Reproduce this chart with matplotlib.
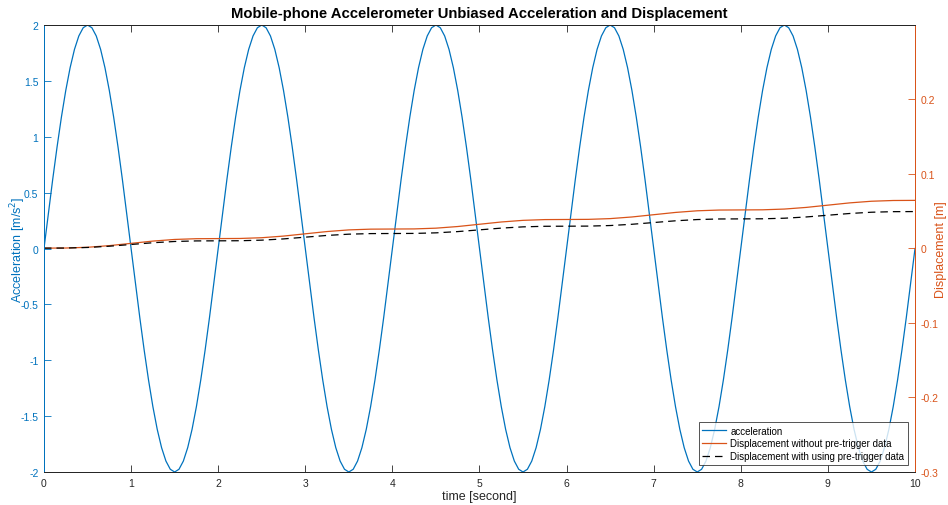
import numpy as np
import matplotlib.pyplot as plt
from matplotlib.ticker import FormatStrFormatter

plt.rcParams['font.family'] = ['Liberation Sans', 'DejaVu Sans']
plt.rcParams['axes.unicode_minus'] = False

# acceleration samples, 0.05 s apart (0 .. 10 s)
t_acc = np.arange(201) * 0.05
acc = [
    0, 0.3129, 0.6180, 0.9080, 1.1756, 1.4142, 1.6180, 1.7820, 1.9021, 1.9754,
    2.0, 1.9754, 1.9021, 1.7820, 1.6180, 1.4142, 1.1756, 0.9080, 0.6180, 0.3129,
    0, -0.3129, -0.6180, -0.9080, -1.1756, -1.4142, -1.6180, -1.7820, -1.9021, -1.9754,
    -2.0, -1.9754, -1.9021, -1.7820, -1.6180, -1.4142, -1.1756, -0.9080, -0.6180, -0.3129,
    0, 0.3129, 0.6180, 0.9080, 1.1756, 1.4142, 1.6180, 1.7820, 1.9021, 1.9754,
    2.0, 1.9754, 1.9021, 1.7820, 1.6180, 1.4142, 1.1756, 0.9080, 0.6180, 0.3129,
    0, -0.3129, -0.6180, -0.9080, -1.1756, -1.4142, -1.6180, -1.7820, -1.9021, -1.9754,
    -2.0, -1.9754, -1.9021, -1.7820, -1.6180, -1.4142, -1.1756, -0.9080, -0.6180, -0.3129,
    0, 0.3129, 0.6180, 0.9080, 1.1756, 1.4142, 1.6180, 1.7820, 1.9021, 1.9754,
    2.0, 1.9754, 1.9021, 1.7820, 1.6180, 1.4142, 1.1756, 0.9080, 0.6180, 0.3129,
    0, -0.3129, -0.6180, -0.9080, -1.1756, -1.4142, -1.6180, -1.7820, -1.9021, -1.9754,
    -2.0, -1.9754, -1.9021, -1.7820, -1.6180, -1.4142, -1.1756, -0.9080, -0.6180, -0.3129,
    0, 0.3129, 0.6180, 0.9080, 1.1756, 1.4142, 1.6180, 1.7820, 1.9021, 1.9754,
    2.0, 1.9754, 1.9021, 1.7820, 1.6180, 1.4142, 1.1756, 0.9080, 0.6180, 0.3129,
    0, -0.3129, -0.6180, -0.9080, -1.1756, -1.4142, -1.6180, -1.7820, -1.9021, -1.9754,
    -2.0, -1.9754, -1.9021, -1.7820, -1.6180, -1.4142, -1.1756, -0.9080, -0.6180, -0.3129,
    0, 0.3129, 0.6180, 0.9080, 1.1756, 1.4142, 1.6180, 1.7820, 1.9021, 1.9754,
    2.0, 1.9754, 1.9021, 1.7820, 1.6180, 1.4142, 1.1756, 0.9080, 0.6180, 0.3129,
    0, -0.3129, -0.6180, -0.9080, -1.1756, -1.4142, -1.6180, -1.7820, -1.9021, -1.9754,
    -2.0, -1.9754, -1.9021, -1.7820, -1.6180, -1.4142, -1.1756, -0.9080, -0.6180, -0.3129,
    0,
]

# displacement samples, 0.25 s apart
t_disp = np.arange(41) * 0.25
disp_no_pre = [
    0, 0.00016, 0.00116, 0.00336, 0.0064, 0.00944, 0.01164, 0.01264,
    0.0128, 0.01296, 0.01396, 0.01616, 0.0192, 0.02224, 0.02444, 0.02544,
    0.0256, 0.02576, 0.02676, 0.02896, 0.032, 0.03504, 0.03724, 0.03824,
    0.0384, 0.03856, 0.03956, 0.04176, 0.0448, 0.04784, 0.05004, 0.05104,
    0.0512, 0.05136, 0.05236, 0.05456, 0.0576, 0.06064, 0.06284, 0.06384,
    0.064,
]
disp_pre = [
    0, 0.00012, 0.00089, 0.00257, 0.0049, 0.00723, 0.00891, 0.00968,
    0.0098, 0.00992, 0.01069, 0.01237, 0.0147, 0.01703, 0.01871, 0.01948,
    0.0196, 0.01972, 0.02049, 0.02217, 0.0245, 0.02683, 0.02851, 0.02928,
    0.0294, 0.02952, 0.03029, 0.03197, 0.0343, 0.03663, 0.03831, 0.03908,
    0.0392, 0.03932, 0.04009, 0.04177, 0.0441, 0.04643, 0.04811, 0.04888,
    0.049,
]

blue = '#0072BD'
orange = '#D95319'
grey = '#262626'

fig = plt.figure(figsize=(9.48, 5.06), dpi=100)
ax = fig.add_axes([0.0464, 0.0652, 0.9188, 0.8834])
ax2 = ax.twinx()

l1, = ax.plot(t_acc, acc, color=blue, lw=0.9, label='acceleration')
l2, = ax2.plot(t_disp, disp_no_pre, color=orange, lw=0.9,
               label='Displacement without pre-trigger data')
l3, = ax2.plot(t_disp, disp_pre, color='black', lw=0.9, ls=(0, (6, 4)),
               label='Displacement with using pre-trigger data')

ax.set_xlim(0, 10)
ax.set_ylim(-2, 2)
ax.set_xticks(range(11))
ax.set_yticks(np.arange(-2, 2.01, 0.5))
ax.yaxis.set_major_formatter(FormatStrFormatter('%g'))
ax2.set_ylim(-0.3, 0.299)
ax2.set_yticks([-0.3, -0.2, -0.1, 0, 0.1, 0.2])
ax2.yaxis.set_major_formatter(FormatStrFormatter('%g'))

ax.tick_params(axis='x', direction='in', length=5, width=0.6, colors=grey,
               labelsize=7.5, top=True, pad=4)
ax.tick_params(axis='y', direction='in', length=5, width=0.6, colors=blue,
               labelsize=7.5, right=False, pad=4)
ax2.tick_params(axis='y', direction='in', length=5, width=0.6, colors=orange,
                labelsize=7.5, pad=4)

for a in (ax, ax2):
    a.spines['top'].set_color(grey)
    a.spines['bottom'].set_color(grey)
    a.spines['left'].set_color(blue)
    a.spines['right'].set_color(orange)
    for s in a.spines.values():
        s.set_linewidth(0.7)

ax.set_xlabel('time [second]', fontsize=9, color=grey, labelpad=2)
ax.set_ylabel('Acceleration [m/s$^2$]', fontsize=9, color=blue)
ax.yaxis.set_label_coords(-0.018, 0.5)
ax2.set_ylabel('Displacement [m]', fontsize=9, color=orange)
ax2.yaxis.set_label_coords(1.0235, 0.5)
ax.set_title('Mobile-phone Accelerometer Unbiased Acceleration and Displacement',
             fontsize=10.7, fontweight='bold', pad=6)

leg = ax2.legend(handles=[l1, l2, l3], loc='lower right', fontsize=7.05,
                 frameon=True, fancybox=False, borderaxespad=0.75,
                 handlelength=2.4, handletextpad=0.45, borderpad=0.35,
                 labelspacing=0.28)
leg.get_frame().set_edgecolor(grey)
leg.get_frame().set_linewidth(0.7)

fig.savefig('out.png', dpi=100)
